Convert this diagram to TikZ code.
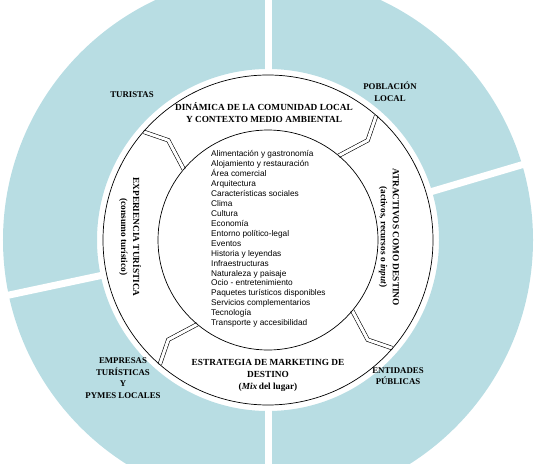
\documentclass[tikz,border=0pt]{standalone}
\usepackage{fontspec}
\setmainfont{Liberation Serif}
\newfontfamily\listfont{Liberation Sans}
\usepackage{tikz}
\usetikzlibrary{positioning}

\definecolor{anillo}{RGB}{184,221,227}

\tikzset{
  titulo/.style={font=\fontsize{9.3}{12}\selectfont\bfseries, align=center, inner sep=0pt},
  grupo/.style={font=\fontsize{8.8}{11.5}\selectfont\bfseries, align=center, inner sep=0pt},
  enlace/.style={draw=black, line width=0.6pt, double=white, double distance=3pt},
  corte/.style={white, line width=7pt},
}

\begin{document}
\begin{tikzpicture}[x=1pt, y=1pt]
\useasboundingbox (-268,-223) rectangle (266,240);
\clip (-268,-223) rectangle (266,240);

% Outer ring of agents
\fill[anillo, even odd rule] (0,0) circle [radius=265pt] (0,0) circle [radius=171pt];
\draw[corte] (90:150) -- (90:320);
\draw[corte] (270:150) -- (270:320);
\draw[corte] (16.5:150) -- (16.5:320);
\draw[corte] (192:150) -- (192:320);

% Agents
\node[grupo] (turistas) at (-136,145) {TURISTAS};
\node[grupo] (poblacion) at (122,148) {POBLACIÓN\\LOCAL};
\node[grupo] (entidades) at (130,-136) {ENTIDADES\\PÚBLICAS};
\node[grupo] (empresas) at (-145,-138) {EMPRESAS\\TURÍSTICAS\\Y\\PYMES LOCALES};

% Connectors between the two circles
\coordinate (ext1) at (139:165); \coordinate (cod1) at (135:141); \coordinate (int1) at (140:110);
\coordinate (ext2) at (49:165);  \coordinate (cod2) at (45:141);  \coordinate (int2) at (50:110);
\coordinate (ext3) at (-41:165); \coordinate (cod3) at (-45:141); \coordinate (int3) at (-40:110);
\coordinate (ext4) at (229:165); \coordinate (cod4) at (225:141); \coordinate (int4) at (230:110);
\draw[enlace] (ext1) -- (cod1) -- (int1);
\draw[enlace] (ext2) -- (cod2) -- (int2);
\draw[enlace] (ext3) -- (cod3) -- (int3);
\draw[enlace] (ext4) -- (cod4) -- (int4);

% Circles
\draw[line width=0.7pt] (0,0) circle [radius=165pt];
\draw[line width=0.7pt] (0,0) circle [radius=110pt];

% Dimensions
\node[titulo] (dinamica) at (-4,127) {DINÁMICA DE LA COMUNIDAD LOCAL\\Y CONTEXTO MEDIO AMBIENTAL};
\node[titulo] (estrategia) at (0,-135) {ESTRATEGIA DE MARKETING DE\\DESTINO\\(\textit{Mix}\,del lugar)};
\node[titulo, rotate=-90] (experiencia) at (-138,3) {EXPERIENCIA TURÍSTICA\\(consumo turístico)};
\node[titulo, rotate=-90] (atractivos) at (121,3) {ATRACTIVOS COMO DESTINO\\(activos, recursos o \textit{input})};

% Attractions
\node[anchor=west, align=left, inner sep=0pt, font=\listfont\fontsize{8.3}{9.95}\selectfont] (listado) at (-57,1) {%
Alimentación y gastronomía\\
Alojamiento y restauración\\
Área comercial\\
Arquitectura\\
Características sociales\\
Clima\\
Cultura\\
Economía\\
Entorno político-legal\\
Eventos\\
Historia y leyendas\\
Infraestructuras\\
Naturaleza y paisaje\\
Ocio - entretenimiento\\
Paquetes turísticos disponibles\\
Servicios complementarios\\
Tecnología\\
Transporte y accesibilidad};

\end{tikzpicture}
\end{document}
